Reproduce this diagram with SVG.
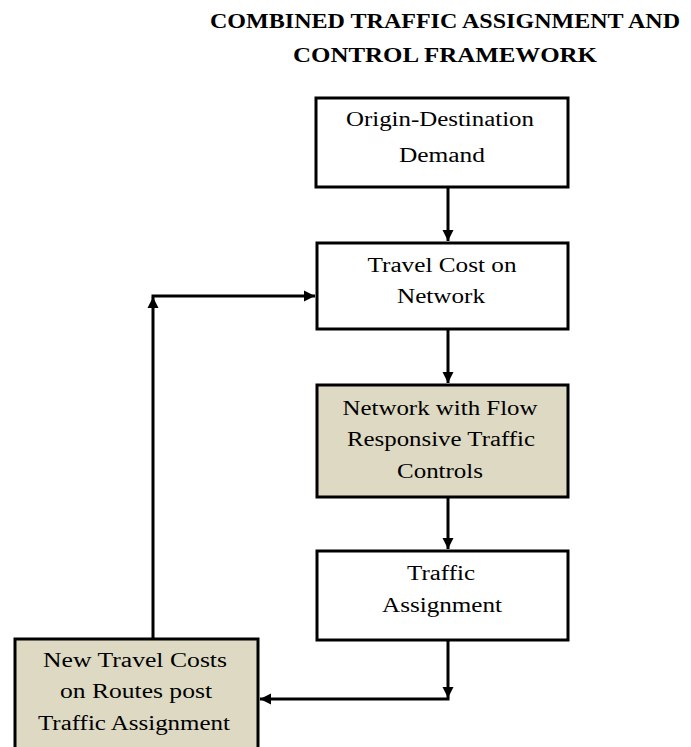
<svg xmlns="http://www.w3.org/2000/svg" width="691" height="747" viewBox="0 0 691 747">
<style>
.box{fill:#ffffff;stroke:#000;stroke-width:3}
.shade{fill:#DDD9C3;stroke:#000;stroke-width:3}
.t{font-family:"Liberation Serif","Times New Roman",serif;font-size:20px;fill:#000;text-anchor:middle}
.title{font-family:"Liberation Serif","Times New Roman",serif;font-size:21px;font-weight:bold;fill:#000;text-anchor:middle}
.c{fill:none;stroke:#000;stroke-width:3}
</style>
<defs>
<marker id="ah" viewBox="0 0 10 10" refX="10" refY="5" markerWidth="11" markerHeight="12" orient="auto" markerUnits="userSpaceOnUse">
<path d="M0,0 L10,5 L0,10 z" fill="#000"/>
</marker>
</defs>
<g id="title">
<text class="title" x="445" y="28" textLength="470" lengthAdjust="spacingAndGlyphs">COMBINED TRAFFIC ASSIGNMENT AND</text>
<text class="title" x="445" y="62" textLength="304" lengthAdjust="spacingAndGlyphs">CONTROL FRAMEWORK</text>
</g>
<g id="connectors">
<line class="c" x1="448" y1="187" x2="448" y2="241" marker-end="url(#ah)"/>
<line class="c" x1="448" y1="329" x2="448" y2="383" marker-end="url(#ah)"/>
<line class="c" x1="448" y1="497" x2="448" y2="549" marker-end="url(#ah)"/>
<line class="c" x1="448" y1="640" x2="448" y2="698" marker-end="url(#ah)"/>
<line class="c" x1="449.5" y1="699" x2="260" y2="699" marker-end="url(#ah)"/>
<line class="c" x1="153" y1="638" x2="153" y2="297" marker-end="url(#ah)"/>
<line class="c" x1="151.5" y1="296" x2="315" y2="296" marker-end="url(#ah)"/>
</g>
<g id="origin-destination">
<rect class="box" x="316" y="98" width="252" height="89"/>
<text class="t" x="440" y="126" textLength="188" lengthAdjust="spacingAndGlyphs">Origin-Destination</text>
<text class="t" x="442" y="162" textLength="86" lengthAdjust="spacingAndGlyphs">Demand</text>
</g>
<g id="travel-cost">
<rect class="box" x="317" y="243" width="251" height="86"/>
<text class="t" x="442" y="272" textLength="149" lengthAdjust="spacingAndGlyphs">Travel Cost on</text>
<text class="t" x="441" y="303" textLength="88" lengthAdjust="spacingAndGlyphs">Network</text>
</g>
<g id="network-controls">
<rect class="shade" x="317" y="385" width="251" height="112"/>
<text class="t" x="440" y="415" textLength="195" lengthAdjust="spacingAndGlyphs">Network with Flow</text>
<text class="t" x="441" y="446" textLength="188" lengthAdjust="spacingAndGlyphs">Responsive Traffic</text>
<text class="t" x="440" y="478" textLength="86" lengthAdjust="spacingAndGlyphs">Controls</text>
</g>
<g id="traffic-assignment">
<rect class="box" x="317" y="551" width="251" height="89"/>
<text class="t" x="441" y="580" textLength="68" lengthAdjust="spacingAndGlyphs">Traffic</text>
<text class="t" x="442" y="612" textLength="120" lengthAdjust="spacingAndGlyphs">Assignment</text>
</g>
<g id="new-travel-costs">
<rect class="shade" x="15" y="639" width="243" height="120"/>
<text class="t" x="135" y="667" textLength="184" lengthAdjust="spacingAndGlyphs">New Travel Costs</text>
<text class="t" x="136" y="698" textLength="152" lengthAdjust="spacingAndGlyphs">on Routes post</text>
<text class="t" x="134" y="730" textLength="192" lengthAdjust="spacingAndGlyphs">Traffic Assignment</text>
</g>
</svg>
